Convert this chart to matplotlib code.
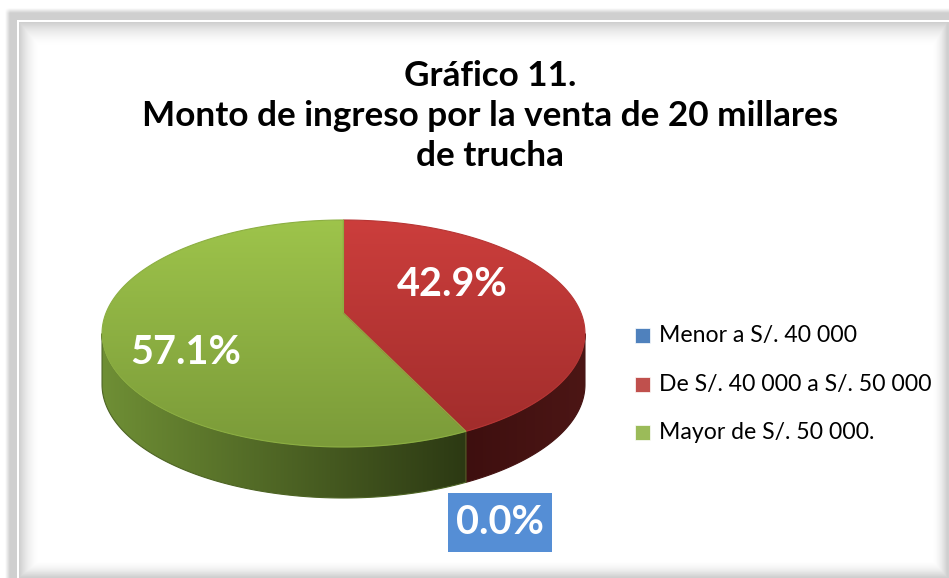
import numpy as np
import matplotlib
matplotlib.use('Agg')
import matplotlib.pyplot as plt
from matplotlib.patches import Polygon, Rectangle
from matplotlib.colors import LinearSegmentedColormap

# data
categories = ['Menor a S/. 40 000', 'De S/. 40 000 a S/. 50 000', 'Mayor de S/. 50 000.']
values = [0.0, 42.9, 57.1]
pct_labels = ['0.0%', '42.9%', '57.1%']
title = 'Gráfico 11.\nMonto de ingreso por la venta de 20 millares\nde trucha'

# colours (top gradient, side gradient, legend swatch)
top_colors = [('#5B8FD2', '#3E6DAB'), ('#CC3E3C', '#A22D2C'), ('#9EC44B', '#7B9B39')]
side_colors = [('#2F5587', '#1B3458'), ('#3E0F0F', '#4C1615'), ('#6F8F35', '#2C3913')]
legend_colors = ['#4F81BD', '#C0504D', '#9BBB59']

W, H = 949, 578
fig = plt.figure(figsize=(W / 100, H / 100), dpi=100)
ax = fig.add_axes([0, 0, 1, 1])
ax.set_xlim(0, W)
ax.set_ylim(H, 0)
ax.axis('off')

# frame with soft shadow
yy, xx = np.mgrid[0:H, 0:W] + 0.5
def ramp(t):
    return np.clip(t, 0, 1)
outer = ramp((xx - 5) / 5) * ramp((yy - 8) / 5)
bg = 1 - 0.19 * outer
inner = (xx >= 19.5) & (yy >= 22.5)
sh = np.maximum.reduce([
    (1 - ramp((xx - 19.5) / 22)) ** 2,
    (1 - ramp((yy - 22.5) / 26)) ** 2,
    (1 - ramp((W - 2 - xx) / 16)) ** 2,
    (1 - ramp((H - 1 - yy) / 18)) ** 2,
])
bg[inner] = 1 - 0.19 * sh[inner]
white_line = ((xx >= 17) & (xx < 19.5) & (yy >= 20)) | ((yy >= 20) & (yy < 22.5) & (xx >= 17))
bg[white_line] = 1.0
ax.imshow(bg, cmap='gray', vmin=0, vmax=1, extent=(0, W, H, 0), aspect='auto',
          interpolation='bilinear', zorder=0)


def grad_fill(verts, c0, c1, horizontal=False, z=2):
    verts = np.asarray(verts)
    cmap = LinearSegmentedColormap.from_list('g', [c0, c1])
    edge = cmap(0.5)
    poly = Polygon(verts, closed=True, facecolor='none', edgecolor=edge, lw=0.8, zorder=z + 0.1)
    ax.add_patch(poly)
    g = np.linspace(0, 1, 256)
    img = g[None, :] if horizontal else g[:, None]
    im = ax.imshow(img, cmap=cmap, extent=(verts[:, 0].min(), verts[:, 0].max(),
                                           verts[:, 1].max(), verts[:, 1].min()),
                   aspect='auto', interpolation='bilinear', zorder=z)
    im.set_clip_path(poly)


# 3D pie seen in perspective: projected centre, horizontal/vertical radii, tilt
cx, cy = 343.5, 313.0
A, B, k = 237.5, 109.8, 0.1806
depth = 51

def pt(a, dy=0.0):
    r = np.radians(a)
    den = 1 + k * np.sin(r)
    return cx + A * np.cos(r) / den, cy - B * np.sin(r) / den + dy

start = 90.0
slices = []
for v in values:
    end = start - v / 100 * 360
    slices.append((end, start))
    start = end

# side walls (visible front part: between the silhouette extremes)
edge_a = np.degrees(np.arcsin(k))
for (lo, hi), (s0, s1) in zip(slices, side_colors):
    if hi - lo <= 0:
        continue
    for n in (-1, 0, 1):
        a0 = max(lo, 180 + edge_a + 360 * n)
        a1 = min(hi, 360 - edge_a + 360 * n)
        if a1 <= a0:
            continue
        aa = np.linspace(a0, a1, 120)
        topv = [pt(a) for a in aa]
        botv = [pt(a, depth) for a in aa[::-1]]
        grad_fill(topv + botv, s0, s1, horizontal=True, z=2)

# top faces
for (lo, hi), (t0, t1) in zip(slices, top_colors):
    if hi - lo <= 0:
        continue
    aa = np.linspace(hi, lo, 200)
    verts = [(cx, cy)] + [pt(a) for a in aa]
    grad_fill(verts, t0, t1, z=3)

# data labels
lab_font = dict(family='Lato', weight='bold', size=28.5, color='white')
ax.text(452, 284, pct_labels[1], ha='center', va='center', zorder=5, **lab_font)
ax.text(186, 353, pct_labels[2], ha='center', va='center', zorder=5, **lab_font)
ax.add_patch(Rectangle((448, 493), 104, 59, facecolor='#558ED5', edgecolor='none', zorder=4))
ax.text(500, 523, pct_labels[0], ha='center', va='center', zorder=5, **lab_font)

# title
ax.text(490, 116, title, ha='center', va='center', family='Lato', weight='bold',
        size=25.3, linespacing=1.31, color='black', zorder=5)

# legend
for i, (cat, col) in enumerate(zip(categories, legend_colors)):
    y = 335.5 + i * 48.5
    ax.add_patch(Rectangle((635, y - 7.5), 15, 15, facecolor=col, edgecolor='#FFFFFF', lw=0.5, zorder=5))
    ax.text(659, y, cat, ha='left', va='center', family='Lato', size=16.6, color='black', zorder=5)

fig.savefig('out.png', dpi=100)
